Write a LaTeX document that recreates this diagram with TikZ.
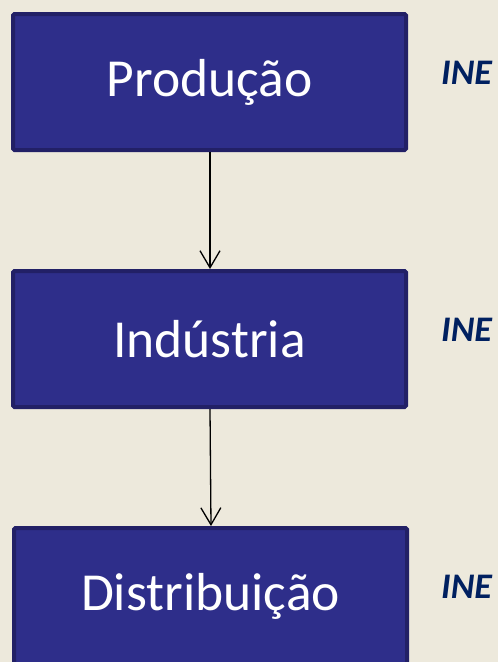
\documentclass[tikz,border=0pt]{standalone}
\usepackage{fontspec}
\setmainfont{Carlito}
\usetikzlibrary{arrows.meta}
\definecolor{bg}{HTML}{EDE9DC}
\definecolor{boxfill}{HTML}{2E2E8A}
\definecolor{boxline}{HTML}{222066}
\definecolor{ine}{HTML}{002060}
\tikzset{
  stage/.style={draw=boxline, line width=4pt, fill=boxfill, rounded corners=1.5pt,
    minimum width=393pt, minimum height=136pt, inner sep=0pt,
    text=white, font=\fontsize{53.5}{60}\selectfont},
  ine/.style={anchor=base west, inner sep=0pt, text=ine,
    font=\fontsize{36}{40}\selectfont\bfseries\itshape},
  flow/.style={line width=1.3pt, -{Straight Barb[length=17pt,width=20pt,line width=1.3pt]}}
}
\begin{document}
\begin{tikzpicture}[x=1pt,y=-1pt]
\fill[bg] (0,0) rectangle (498,662);
\useasboundingbox (0,0) rectangle (498,662);
\node[stage] (p) at (209.5,82) {Produção};
\node[stage] (i) at (209.5,339) {Indústria};
\node[stage] (d) at (210.5,596) {Distribuição};
\node[ine] (ine1) at (441,84.5) {INE};
\node[ine] (ine2) at (441,341.5) {INE};
\node[ine] (ine3) at (441,598.5) {INE};
\draw[flow] (p.south -| 210,0) -- (i.north -| 210,0);
\draw[flow] (i.south -| 210,0) -- (d.north -| 211,0);
\end{tikzpicture}
\end{document}
